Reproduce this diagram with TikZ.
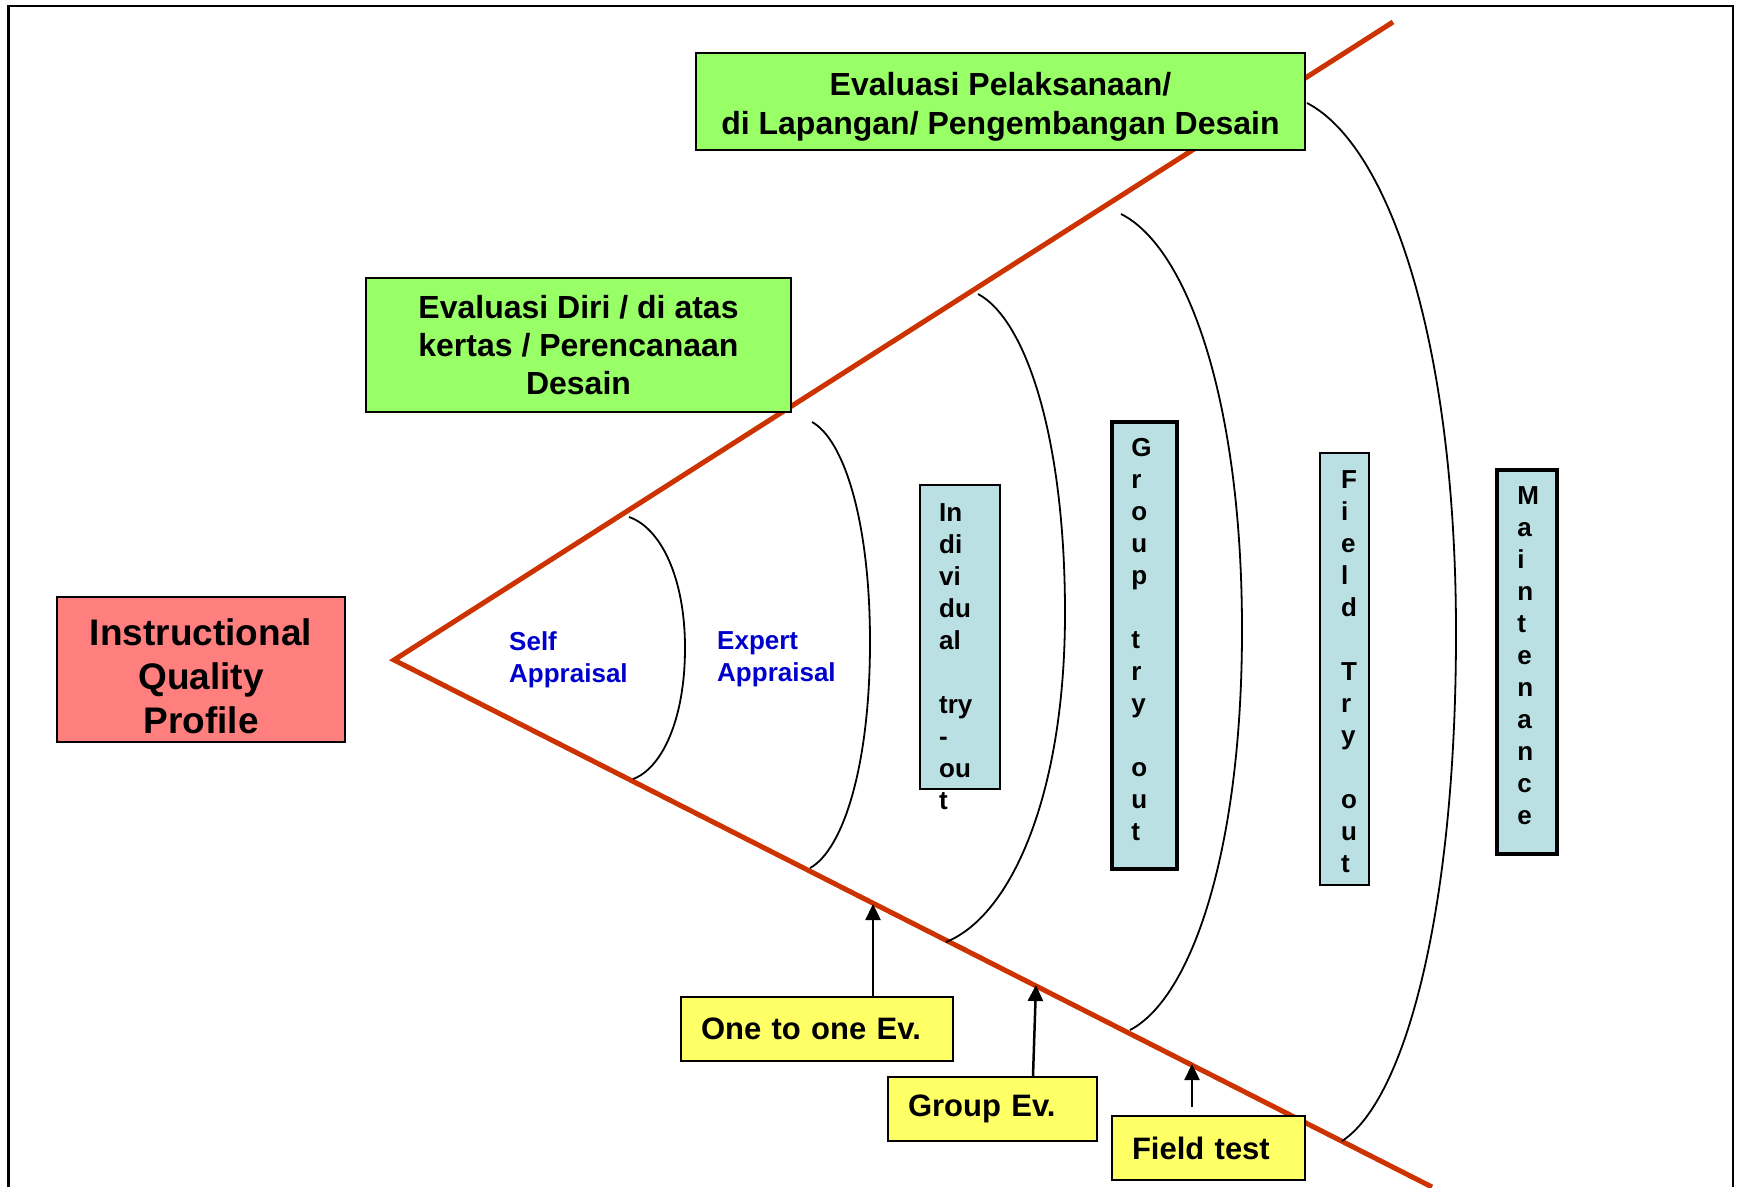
\documentclass[tikz,border=0pt]{standalone}
\usepackage{fontspec}
\setmainfont{Liberation Sans}
\usepackage{tikz}
\usetikzlibrary{arrows.meta,positioning,calc}

\definecolor{conered}{HTML}{CC3300}
\definecolor{planfill}{HTML}{99FF66}
\definecolor{profilefill}{HTML}{FF7F7F}
\definecolor{tryfill}{HTML}{BBE0E3}
\definecolor{evfill}{HTML}{FFFF66}
\definecolor{appblue}{HTML}{0000CC}

\begin{document}
\begin{tikzpicture}[x=1pt,y=-1pt]
      \tikzstyle{redline}=[conered,line width=5pt]
      \tikzstyle{arcline}=[black,line width=1.8pt]
      \tikzstyle{planbox}=[draw,line width=2pt,fill=planfill,align=center,font=\bfseries\fontsize{32}{38}\selectfont]
      \tikzstyle{trybox}=[draw,line width=2pt,fill=tryfill,inner sep=0pt]
      \tikzstyle{trytext}=[inner sep=0pt,align=left,font=\bfseries\fontsize{26}{32}\selectfont]
      \tikzstyle{apptext}=[anchor=north west,inner sep=0pt,align=left,text=appblue,font=\bfseries\fontsize{26}{32}\selectfont]
      \tikzstyle{evbox}=[draw,line width=2pt,fill=evfill,minimum height=64pt,inner xsep=20pt,align=left,font=\bfseries\fontsize{31}{37}\selectfont]
      \tikzstyle{evarrow}=[-{Triangle[length=16pt,width=15pt]},line width=2.5pt]
      \useasboundingbox (0,0) rectangle (1741,1187);
      % frame, open at the bottom
      \draw[line width=2.5pt] (8.5,1187) -- (8.5,6) -- (1733,6) -- (1733,1187);
      % the cone
      \coordinate (apex) at (394,660);
      \coordinate (upend) at (1393,22);
      \coordinate (lowend) at (1432,1187);
      \draw[redline] (upend) -- (apex) -- (lowend);
      % arcs: top / rightmost / bottom
      \foreach \tx/\ty/\rx/\ry/\bx/\by in {629/517/685/648/633/779,812/422/870/642/810/868,978/294/1065/613/946/942,1121/214/1242/630/1130/1030,1307/103/1456/633/1342/1141}
        \draw[arcline] (\tx,\ty) .. controls ({\tx+0.55*(\rx-\tx)},{\ty+0.08*(\ry-\ty)}) and (\rx,{\ry-0.55*(\ry-\ty)}) .. (\rx,\ry)
          .. controls (\rx,{\ry+0.55*(\by-\ry)}) and ({\bx+0.55*(\rx-\bx)},{\by-0.08*(\by-\ry)}) .. (\bx,\by);
      % boxes
      \node[draw,line width=2pt,fill=profilefill,minimum width=288pt,minimum height=145pt] (profile) at (201,669.5) {};
      \node[align=center,font=\bfseries\fontsize{37}{44}\selectfont] (profiletext) at ([yshift=-7pt]profile.center) {Instructional\\Quality\\Profile};
      \node[planbox,minimum width=609pt,minimum height=97pt] (devplan) at (1000.5,101.5) {};
      \node[align=center,font=\bfseries\fontsize{32}{39}\selectfont] (devplantext) at ([yshift=-5pt]devplan.center) {Evaluasi Pelaksanaan/\\di Lapangan/ Pengembangan Desain};
      \node[planbox,minimum width=425pt,minimum height=134pt] (selfplan) at (578.5,345) {Evaluasi Diri / di atas\\kertas / Perencanaan\\Desain};
      \node[apptext] (selfapp) at (509,631) {Self\\Appraisal};
      \node[apptext] (expertapp) at (717,631) {Expert\\Appraisal};
      \node[trybox,minimum width=80pt,minimum height=304pt] (indiv) at (960,637) {};
      \node[trytext,below right=19pt and 20pt of indiv.north west] (indivtext) {In\\di\\vi\\du\\al\\\mbox{}\\try\\-\\ou\\t};
      \node[trybox,line width=3.5pt,minimum width=65pt,minimum height=447pt] (group) at (1144.5,645.5) {};
      \node[trytext,below right=18pt and 21pt of group.north west] (grouptext) {G\\r\\o\\u\\p\\\mbox{}\\t\\r\\y\\\mbox{}\\o\\u\\t};
      \node[trybox,minimum width=49pt,minimum height=432pt] (fieldtry) at (1344.5,669) {};
      \node[trytext,below right=18pt and 22pt of fieldtry.north west] (fieldtext) {F\\i\\e\\l\\d\\\mbox{}\\T\\r\\y\\\mbox{}\\o\\u\\t};
      \node[trybox,line width=3.5pt,minimum width=60pt,minimum height=384pt] (maint) at (1527,662) {};
      \node[trytext,below right=18pt and 22pt of maint.north west] (mainttext) {M\\a\\i\\n\\t\\e\\n\\a\\n\\c\\e};
      \node[evbox,text width=232pt] (onetoone) at (817,1029) {One to one Ev.};
      \node[evbox,text width=169pt] (groupev) at (992.5,1109) {Group Ev.};
      \node[evbox,text width=153pt] (fieldtest) at (1208.5,1148) {Field test};
      % arrows up to the cone
      \coordinate (onetip) at (873,904);
      \coordinate (grouptip) at (1036,985);
      \coordinate (fieldtip) at (1192,1064);
      \draw[evarrow] (onetip |- onetoone.north) -- (onetip);
      \draw[evarrow] ([xshift=40.5pt]groupev.north) -- (grouptip);
      \draw[evarrow,shorten <=8pt] (fieldtip |- fieldtest.north) -- (fieldtip);
    \end{tikzpicture}
\end{document}
